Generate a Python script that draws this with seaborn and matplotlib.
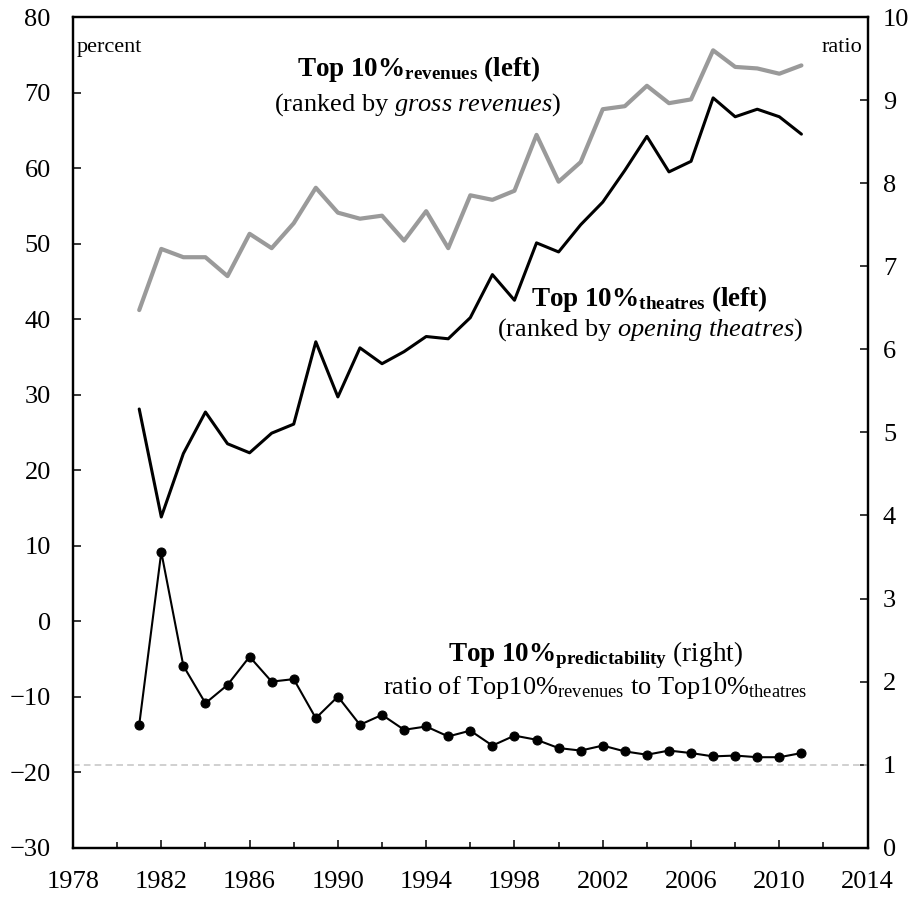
#!/usr/bin/env python3

import numpy as np
import pandas as pd
import seaborn as sns
import matplotlib.pyplot as plt
from matplotlib.ticker import MultipleLocator

# values
years = list(range(1981, 2012))
top10_revenues = [41.2, 49.3, 48.2, 48.2, 45.7, 51.3, 49.4, 52.7, 57.4, 54.1,
                  53.3, 53.7, 50.4, 54.3, 49.4, 56.4, 55.8, 57.0, 64.4, 58.2,
                  60.8, 67.8, 68.2, 70.9, 68.6, 69.1, 75.6, 73.4, 73.2, 72.5,
                  73.6]
top10_theatres = [28.1, 13.8, 22.2, 27.7, 23.5, 22.3, 24.9, 26.1, 37.0, 29.7,
                  36.2, 34.1, 35.7, 37.7, 37.4, 40.2, 45.9, 42.5, 50.1, 48.9,
                  52.5, 55.5, 59.7, 64.2, 59.5, 60.9, 69.3, 66.8, 67.8, 66.8,
                  64.5]
predictability = [1.48, 3.56, 2.19, 1.74, 1.96, 2.30, 2.00, 2.03, 1.56, 1.82,
                  1.48, 1.60, 1.42, 1.46, 1.34, 1.41, 1.23, 1.35, 1.30, 1.20,
                  1.17, 1.23, 1.16, 1.12, 1.17, 1.14, 1.10, 1.11, 1.09, 1.09,
                  1.14]
left_ticks = list(range(-30, 81, 10))
right_ticks = list(range(0, 11))
x_ticks = list(range(1978, 2015, 4))

df = pd.DataFrame({"year": years, "rev": top10_revenues,
                   "thea": top10_theatres, "pred": predictability})

sns.set_style("white")
plt.rcParams["font.family"] = ["Liberation Serif", "DejaVu Serif"]
plt.rcParams["mathtext.fontset"] = "custom"
plt.rcParams["mathtext.rm"] = "Liberation Serif"
plt.rcParams["mathtext.it"] = "Liberation Serif:italic"
plt.rcParams["mathtext.bf"] = "Liberation Serif:bold"
plt.rcParams["text.color"] = "black"
plt.rcParams["xtick.color"] = "black"
plt.rcParams["ytick.color"] = "black"

fig = plt.figure(figsize=(9.24, 8.99), dpi=100)
ax = fig.add_axes([0.079, 0.057, 0.860, 0.924])
ax2 = ax.twinx()

sns.lineplot(data=df, x="year", y="rev", ax=ax, color="#9a9a9a", lw=3.0)
sns.lineplot(data=df, x="year", y="thea", ax=ax, color="black", lw=2.2)
ax2.axhline(1, color="#c8c8c8", ls="--", lw=1.2, dashes=(4, 2.5))
sns.lineplot(data=df, x="year", y="pred", ax=ax2, color="black", lw=1.5,
             marker="o", markersize=6.5, markeredgecolor="black")

ax.set_xlim(1978, 2014)
ax.set_ylim(-30, 80)
ax2.set_ylim(0, 10)
ax.set_xticks(x_ticks)
ax.xaxis.set_minor_locator(MultipleLocator(2))
ax.set_yticks(left_ticks)
ax2.set_yticks(right_ticks)
ax.set_xlabel("")
ax.set_ylabel("")
ax2.set_ylabel("")

for a in (ax, ax2):
    for s in a.spines.values():
        s.set_linewidth(1.6)
        s.set_color("black")
ax.tick_params(axis="y", direction="in", length=6, width=1.1, pad=16,
               labelsize=19, left=True)
ax.tick_params(axis="x", which="major", direction="in", length=6, width=1.1,
               pad=17, labelsize=19, bottom=True)
ax.tick_params(axis="x", which="minor", direction="in", length=4, width=1.1,
               bottom=True)
ax2.tick_params(axis="y", direction="in", length=6, width=1.1, pad=11,
                labelsize=19, right=True)

ax.text(0.005, 0.975, "percent", transform=ax.transAxes, fontsize=16,
        ha="left", va="top")
ax.text(0.993, 0.975, "ratio", transform=ax.transAxes, fontsize=16,
        ha="right", va="top")

ax.text(0.435, 0.9285, r"$\mathbf{Top\ 10\%_{revenues}\ (left)}$",
        transform=ax.transAxes, fontsize=19.5, ha="center", va="baseline")
ax.text(0.433, 0.888, r"(ranked by $\mathit{gross\ revenues}$)",
        transform=ax.transAxes, fontsize=19, ha="center", va="baseline")
ax.text(0.726, 0.652, r"$\mathbf{Top\ 10\%_{theatres}\ (left)}$",
        transform=ax.transAxes, fontsize=19.5, ha="center", va="baseline")
ax.text(0.726, 0.616, r"(ranked by $\mathit{opening\ theatres}$)",
        transform=ax.transAxes, fontsize=19, ha="center", va="baseline")
ax.text(0.658, 0.225, r"$\mathbf{Top\ 10\%_{predictability}}$ (right)",
        transform=ax.transAxes, fontsize=19.5, ha="center", va="baseline")
ax.text(0.657, 0.185,
        r"ratio of Top10%$_{\mathrm{revenues}}$ to Top10%$_{\mathrm{theatres}}$",
        transform=ax.transAxes, fontsize=19, ha="center", va="baseline")

fig.savefig("out.png", dpi=100)
